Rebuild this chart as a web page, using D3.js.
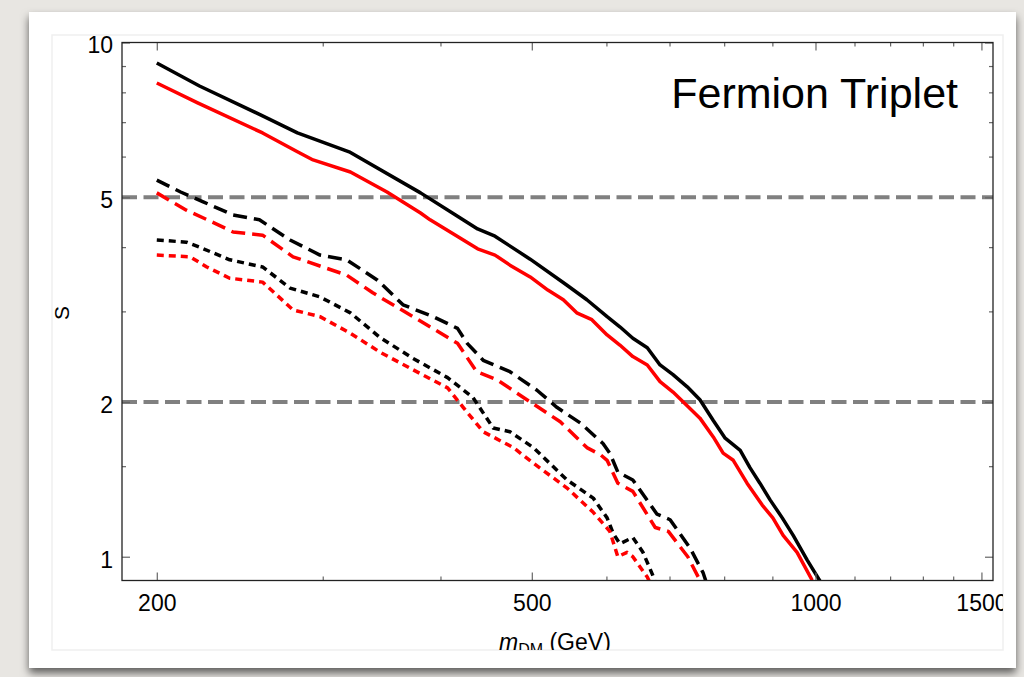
<!DOCTYPE html>
<meta charset="utf-8">

<script src="https://d3js.org/d3.v7.min.js"></script>

<style type="text/css">
body { margin: 0; background: #e8e6e2; }
svg { display: block; }
.axis text { font-family: "Liberation Sans", Arial, sans-serif; font-size: 23px; fill: #000; }
.axis line { stroke: #666; stroke-width: 1.2; }
.axis path { display: none; }
</style>

<body></body>

<script>

// ---- data (m in GeV, S) ----

var xTickMajor = [200, 500, 1000, 1500];
var xTickMinor = [300, 400, 600, 700, 800, 900, 1100, 1200, 1300, 1400];
var yTickMajor = [1, 2, 5, 10];
var yTickMinor = [1.5, 3, 4, 6, 7, 8, 9];
var refLines = [5, 2];

var blackSolidM = [200, 222, 259, 282, 320, 381, 415, 438, 457, 498, 544, 572, 601, 620, 640, 663, 684, 706, 731, 754, 779, 802, 832, 852, 873, 895, 922, 947, 980, 1011];
var blackSolidS = [9.12, 8.23, 7.20, 6.67, 6.13, 5.10, 4.62, 4.34, 4.20, 3.79, 3.38, 3.16, 2.93, 2.80, 2.66, 2.55, 2.36, 2.26, 2.14, 2.02, 1.84, 1.70, 1.61, 1.49, 1.39, 1.29, 1.19, 1.10, 0.985, 0.897];

var redSolidM = [200, 221, 259, 282, 293, 321, 351, 381, 390, 415, 438, 457, 474, 498, 520, 540, 558, 579, 601, 620, 640, 663, 684, 706, 724, 754, 779, 798, 818, 846, 878, 901, 924, 956, 992];
var redSolidS = [8.34, 7.63, 6.67, 6.13, 5.91, 5.60, 5.12, 4.66, 4.52, 4.22, 3.97, 3.86, 3.69, 3.50, 3.30, 3.16, 2.98, 2.89, 2.70, 2.58, 2.45, 2.36, 2.19, 2.09, 2.00, 1.86, 1.71, 1.59, 1.54, 1.39, 1.26, 1.19, 1.10, 1.02, 0.90];

var blackDashM = [200, 212, 224, 241, 257, 277, 298, 318, 343, 365, 393, 417, 427, 444, 474, 506, 532, 563, 595, 605, 617, 640, 679, 701, 736, 760, 765];
var blackDashS = [5.40, 5.12, 4.90, 4.62, 4.52, 4.13, 3.86, 3.78, 3.45, 3.09, 2.93, 2.78, 2.60, 2.41, 2.29, 2.11, 1.95, 1.82, 1.66, 1.59, 1.46, 1.41, 1.21, 1.18, 1.04, 0.93, 0.897];

var redDashM = [200, 215, 230, 241, 259, 279, 300, 318, 339, 374, 417, 437, 459, 494, 536, 572, 591, 601, 617, 640, 676, 698, 732, 754];
var redDashS = [5.10, 4.72, 4.46, 4.28, 4.22, 3.83, 3.66, 3.53, 3.26, 2.93, 2.60, 2.29, 2.21, 2.02, 1.83, 1.63, 1.58, 1.54, 1.39, 1.34, 1.14, 1.12, 1.00, 0.90];

var blackDotM = [200, 215, 222, 239, 259, 277, 298, 321, 345, 374, 407, 433, 455, 474, 502, 545, 581, 601, 610, 620, 640, 656, 672, 675];
var blackDotS = [4.13, 4.09, 4.00, 3.78, 3.66, 3.33, 3.20, 2.98, 2.67, 2.43, 2.23, 2.04, 1.78, 1.75, 1.63, 1.41, 1.30, 1.19, 1.11, 1.06, 1.09, 1.02, 0.92, 0.897];

var redDotM = [200, 217, 226, 239, 259, 279, 298, 321, 345, 374, 407, 423, 444, 478, 502, 545, 581, 605, 617, 631, 640, 663, 666];
var redDotS = [3.86, 3.83, 3.66, 3.48, 3.42, 3.02, 2.93, 2.72, 2.50, 2.31, 2.13, 1.95, 1.75, 1.63, 1.52, 1.36, 1.22, 1.12, 1.00, 1.02, 1.00, 0.913, 0.897];

// ---- layout ----

var W = 1024, H = 677;
var margin = {top: 42.5, right: 31, bottom: 96.5, left: 122};
var width = W - margin.left - margin.right,
    height = H - margin.top - margin.bottom;

var svg = d3.select("body").append("svg")
    .attr("width", W)
    .attr("height", H);

var defs = svg.append("defs");
var shadow = defs.append("filter").attr("id", "shadow")
    .attr("x", "-5%").attr("y", "-5%").attr("width", "110%").attr("height", "120%");
shadow.append("feDropShadow")
    .attr("dx", 0).attr("dy", 5).attr("stdDeviation", 4)
    .attr("flood-color", "#000").attr("flood-opacity", 0.6);

defs.append("clipPath").attr("id", "imgclip")
  .append("rect").attr("x", 52).attr("y", 35).attr("width", 951).attr("height", 615);
defs.append("clipPath").attr("id", "plotclip")
  .append("rect").attr("x", 0).attr("y", 0).attr("width", width).attr("height", height);

// slide background + white card
svg.append("rect").attr("width", W).attr("height", H).attr("fill", "#e8e6e2");
svg.append("rect")
    .attr("x", 29).attr("y", 12).attr("width", 987).attr("height", 656)
    .attr("fill", "#fff").attr("filter", "url(#shadow)");
svg.append("rect")
    .attr("x", 52).attr("y", 35).attr("width", 951).attr("height", 615)
    .attr("fill", "#fff").attr("stroke", "#efefef").attr("stroke-width", 1.5);

var outer = svg.append("g").attr("clip-path", "url(#imgclip)");
var g = outer.append("g")
    .attr("transform", "translate(" + margin.left + "," + margin.top + ")");

// scales
var xScale = d3.scaleLog().domain([183.7, 1543]).range([0, width]);
var yScale = d3.scaleLog().domain([0.899, 10]).range([height, 0]);

// reference lines
g.selectAll(".ref")
    .data(refLines)
    .enter().append("line")
    .attr("class", "ref")
    .attr("x1", 0).attr("x2", width)
    .attr("y1", function(d) { return yScale(d); })
    .attr("y2", function(d) { return yScale(d); })
    .attr("stroke", "#808080")
    .attr("stroke-width", 4)
    .attr("stroke-dasharray", "15,6.5");

// curves
var curves = [
  {m: blackSolidM, s: blackSolidS, color: "#000", dash: null},
  {m: redSolidM, s: redSolidS, color: "#f00", dash: null},
  {m: blackDashM, s: blackDashS, color: "#000", dash: "14,7"},
  {m: redDashM, s: redDashS, color: "#f00", dash: "14,7"},
  {m: blackDotM, s: blackDotS, color: "#000", dash: "7,5"},
  {m: redDotM, s: redDotS, color: "#f00", dash: "7,5"}
];

var line = d3.line()
    .x(function(d) { return xScale(d[0]); })
    .y(function(d) { return yScale(d[1]); });

var plot = g.append("g").attr("clip-path", "url(#plotclip)");
curves.forEach(function(c) {
  var pts = c.m.map(function(m, i) { return [m, c.s[i]]; });
  plot.append("path")
      .datum(pts)
      .attr("d", line)
      .attr("fill", "none")
      .attr("stroke", c.color)
      .attr("stroke-width", 3.5)
      .attr("stroke-linejoin", "round")
      .attr("stroke-dasharray", c.dash);
});

// ticks (pointing inward), labels on bottom and left only
var fmt = d3.format("d");

g.append("g").attr("class", "axis")
    .attr("transform", "translate(0," + height + ")")
    .call(d3.axisBottom(xScale).tickValues(xTickMajor).tickSizeInner(-8).tickSizeOuter(0)
      .tickPadding(14).tickFormat(fmt));
g.append("g").attr("class", "axis")
    .attr("transform", "translate(0," + height + ")")
    .call(d3.axisBottom(xScale).tickValues(xTickMinor).tickSizeInner(-4).tickSizeOuter(0).tickFormat(""));
g.append("g").attr("class", "axis")
    .call(d3.axisTop(xScale).tickValues(xTickMajor).tickSizeInner(-8).tickSizeOuter(0).tickFormat(""));
g.append("g").attr("class", "axis")
    .call(d3.axisTop(xScale).tickValues(xTickMinor).tickSizeInner(-4).tickSizeOuter(0).tickFormat(""));

var yAxisGroup = g.append("g").attr("class", "axis")
    .call(d3.axisLeft(yScale).tickValues(yTickMajor).tickSizeInner(-8).tickSizeOuter(0)
      .tickPadding(9).tickFormat(fmt));
yAxisGroup.selectAll("text").attr("dy", "0.45em");
g.append("g").attr("class", "axis")
    .call(d3.axisLeft(yScale).tickValues(yTickMinor).tickSizeInner(-4).tickSizeOuter(0).tickFormat(""));
g.append("g").attr("class", "axis")
    .attr("transform", "translate(" + width + ",0)")
    .call(d3.axisRight(yScale).tickValues(yTickMajor).tickSizeInner(-8).tickSizeOuter(0).tickFormat(""));
g.append("g").attr("class", "axis")
    .attr("transform", "translate(" + width + ",0)")
    .call(d3.axisRight(yScale).tickValues(yTickMinor).tickSizeInner(-4).tickSizeOuter(0).tickFormat(""));

// frame
g.append("rect")
    .attr("width", width).attr("height", height)
    .attr("fill", "none").attr("stroke", "#222").attr("stroke-width", 1.3);

// titles
var font = "'Liberation Sans', Arial, sans-serif";

g.append("text")
    .attr("x", 958 - margin.left).attr("y", 108 - margin.top)
    .attr("text-anchor", "end")
    .style("font-family", font).style("font-size", "43px")
    .text("Fermion Triplet");

var xLabel = outer.append("text")
    .attr("x", 499).attr("y", 650)
    .style("font-family", font).style("font-size", "23px");
xLabel.append("tspan").style("font-style", "italic").text("m");
xLabel.append("tspan").attr("dy", 5).style("font-size", "16px").text("DM");
xLabel.append("tspan").attr("dy", -5).text(" (GeV)");

outer.append("text")
    .attr("transform", "translate(69,313) rotate(-90)")
    .attr("text-anchor", "middle")
    .style("font-family", font).style("font-size", "21px")
    .text("S");

</script>
